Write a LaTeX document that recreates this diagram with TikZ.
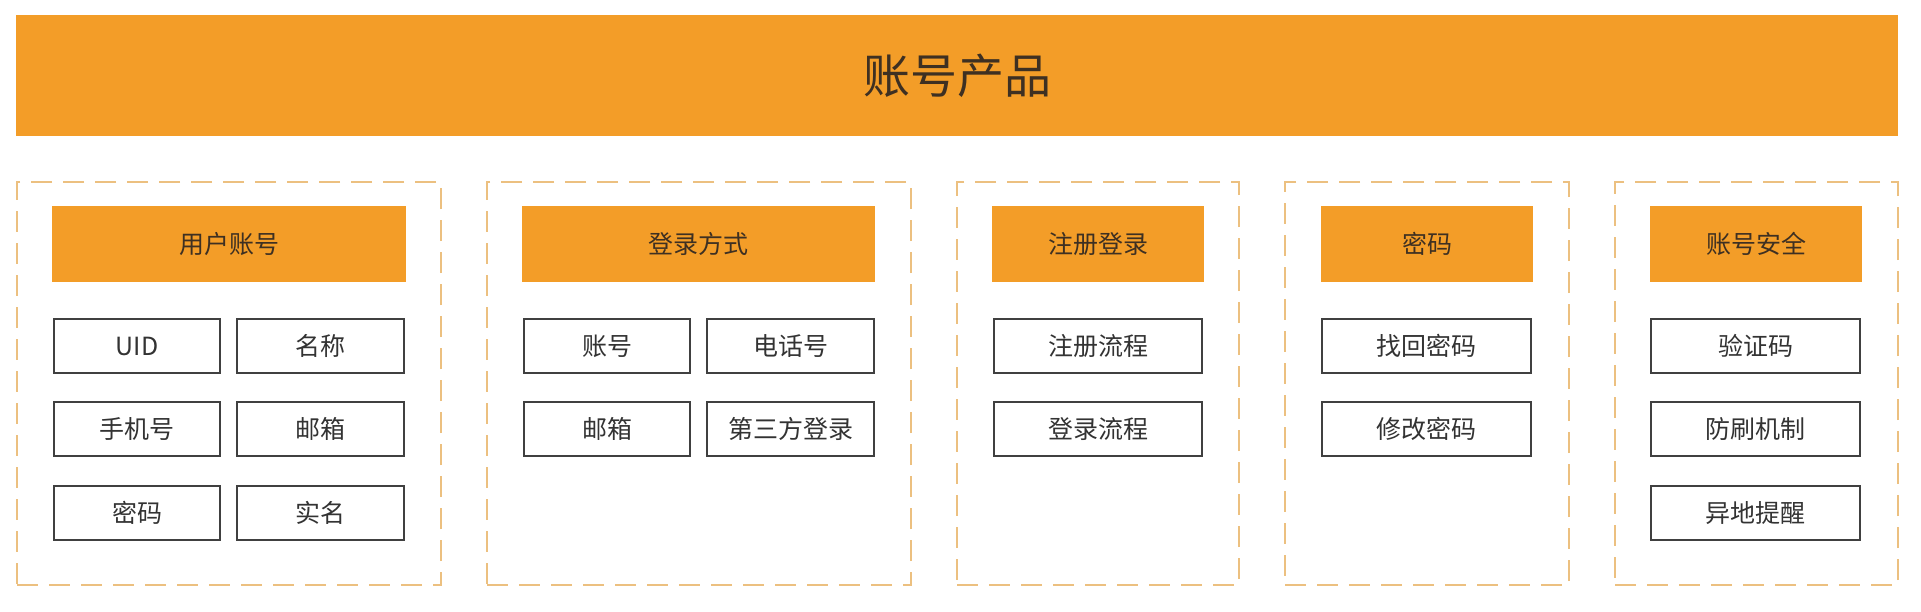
\documentclass[tikz,border=0pt]{standalone}
\usepackage{fontspec}
\setmainfont{Noto Sans CJK SC}
\definecolor{org}{RGB}{243,157,40}
\definecolor{dsh}{RGB}{236,192,128}
\definecolor{txt}{RGB}{51,51,51}
\definecolor{hdtxt}{RGB}{62,48,34}
\definecolor{bdr}{RGB}{64,64,64}
\tikzset{
  topbar/.style={fill=org, draw=none, inner sep=0pt, font=\fontsize{47}{54}\selectfont, text=hdtxt},
  grp/.style={draw=dsh, line width=1.7pt, dash pattern=on 21pt off 11pt, inner sep=0pt},
  head/.style={fill=org, draw=none, inner sep=0pt, font=\fontsize{25}{30}\selectfont, text=hdtxt},
  item/.style={draw=bdr, line width=2.6pt, fill=white, inner sep=0pt, font=\fontsize{25}{30}\selectfont, text=txt},
}
\newcommand\bx[7]{\node[#2, minimum width={(#5-#3)*1pt}, minimum height={(#6-#4)*1pt}] (#1) at ({(#3+#5)/2},{(#4+#6)/2}) {#7};}
\begin{document}
\begin{tikzpicture}[x=1pt,y=-1pt]
\useasboundingbox (0,0) rectangle (1921,611);
\fill[white] (0,0) rectangle (1921,611);
% top bar
\bx{title}{topbar}{16}{15}{1898}{136}{账号产品}
% groups
\bx{g1}{grp}{17}{182}{441}{585}{}
\bx{g2}{grp}{487}{182}{911}{585}{}
\bx{g3}{grp}{957}{182}{1239}{585}{}
\bx{g4}{grp}{1285}{182}{1569}{585}{}
\bx{g5}{grp}{1615}{182}{1898}{585}{}
% headers
\bx{h1}{head}{52}{206}{406}{282}{用户账号}
\bx{h2}{head}{522}{206}{875}{282}{登录方式}
\bx{h3}{head}{992}{206}{1204}{282}{注册登录}
\bx{h4}{head}{1321}{206}{1533}{282}{密码}
\bx{h5}{head}{1650}{206}{1862}{282}{账号安全}
% group 1 items
\bx{a1}{item}{54}{319}{220}{373}{UID}
\bx{a2}{item}{237}{319}{404}{373}{名称}
\bx{a3}{item}{54}{402}{220}{456}{手机号}
\bx{a4}{item}{237}{402}{404}{456}{邮箱}
\bx{a5}{item}{54}{486}{220}{540}{密码}
\bx{a6}{item}{237}{486}{404}{540}{实名}
% group 2 items
\bx{b1}{item}{524}{319}{690}{373}{账号}
\bx{b2}{item}{707}{319}{874}{373}{电话号}
\bx{b3}{item}{524}{402}{690}{456}{邮箱}
\bx{b4}{item}{707}{402}{874}{456}{第三方登录}
% group 3 items
\bx{c1}{item}{994}{319}{1202}{373}{注册流程}
\bx{c2}{item}{994}{402}{1202}{456}{登录流程}
% group 4 items
\bx{d1}{item}{1322}{319}{1531}{373}{找回密码}
\bx{d2}{item}{1322}{402}{1531}{456}{修改密码}
% group 5 items
\bx{e1}{item}{1651}{319}{1860}{373}{验证码}
\bx{e2}{item}{1651}{402}{1860}{456}{防刷机制}
\bx{e3}{item}{1651}{486}{1860}{540}{异地提醒}
\end{tikzpicture}
\end{document}
